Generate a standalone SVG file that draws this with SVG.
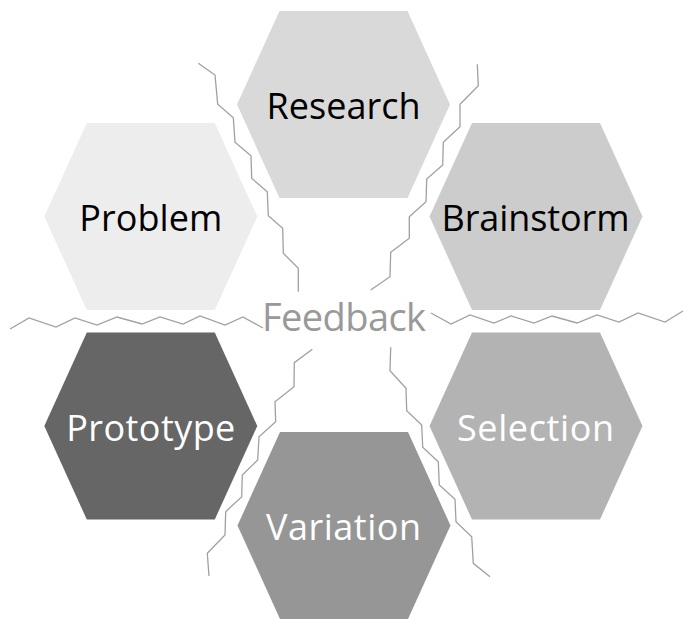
<svg xmlns="http://www.w3.org/2000/svg" xmlns:xlink="http://www.w3.org/1999/xlink" width="690" height="628" viewBox="0 0 690 628">
  <style>
    .lbl { font-family: "Open Sans", "Noto Sans", "Liberation Sans", sans-serif; font-size: 36px; text-anchor: middle; }
    .dark { fill: #000000; }
    .light { fill: #ffffff; }
    .fb { fill: #999999; font-size: 38px; }
    .zz { fill: none; stroke: #a0a0a0; stroke-width: 1.3; stroke-linejoin: miter; }
  </style>
  <defs>
    <polygon id="hex" points="-106.5,0 -64,-93.5 64,-93.5 106.5,0 64,93.5 -64,93.5"/>
  </defs>
  <rect width="690" height="628" fill="#ffffff"/>

  <g id="research">
    <use href="#hex" xlink:href="#hex" transform="translate(343.5,104.5)" fill="#d9d9d9"/>
    <text class="lbl dark" x="343.5" y="119" textLength="154" lengthAdjust="spacing">Research</text>
  </g>
  <g id="problem">
    <use href="#hex" xlink:href="#hex" transform="translate(150.8,216.5)" fill="#ededed"/>
    <text class="lbl dark" x="150.8" y="231" textLength="143" lengthAdjust="spacing">Problem</text>
  </g>
  <g id="brainstorm">
    <use href="#hex" xlink:href="#hex" transform="translate(536,216.5)" fill="#cccccc"/>
    <text class="lbl dark" x="535.5" y="231" textLength="188" lengthAdjust="spacing">Brainstorm</text>
  </g>
  <g id="prototype">
    <use href="#hex" xlink:href="#hex" transform="translate(150.8,426)" fill="#666666"/>
    <text class="lbl light" x="150.8" y="441" textLength="169" lengthAdjust="spacing">Prototype</text>
  </g>
  <g id="selection">
    <use href="#hex" xlink:href="#hex" transform="translate(536,426)" fill="#b3b3b3"/>
    <text class="lbl light" x="535.5" y="440.5" textLength="157" lengthAdjust="spacing">Selection</text>
  </g>
  <g id="variation">
    <use href="#hex" xlink:href="#hex" transform="translate(344,525.5)" fill="#969696"/>
    <text class="lbl light" x="343.5" y="540" textLength="155" lengthAdjust="spacing">Variation</text>
  </g>

  <g id="connectors">
    <polyline class="zz" points="198.3,63.3 215,75 217.7,104.3 233.3,117.7 235,142.3 251,155.7 251.7,178.3 267.3,191.7 268.3,215.7 282.7,228.3 283.3,253.3 298.3,268.3 298.3,291.7"/>
    <polyline class="zz" points="477.3,64.3 478.3,85.7 460,104.3 460,126.7 443.3,142.3 442.7,165 426.7,179 426,201.7 409.3,216.7 409.3,238.3 390.7,252.3 390,276.7 370.7,290"/>
    <polyline class="zz" points="312.3,349.3 294.3,362.7 294,386.7 275,401.7 275.7,421.7 259,436.7 257.7,460 242.3,475 241.7,496.7 225.7,511.7 225,535 207.3,553.3 209,576"/>
    <polyline class="zz" points="390.7,347.3 390,370.7 406,388.3 406.7,410.7 421.7,425 422.7,447.3 438.3,461.7 439.3,485 455,499.3 456,521.7 471.7,536.7 473.3,563.3 490,576.7"/>
    <polyline class="zz" points="10,329 29,318 56,327 75,318 97,325 117,317 142,324 160,317 183,324 200,316 225,325 243,317 263,328"/>
    <polyline class="zz" points="431,313 451,324 470,315 494,323 511,316 534,323 552,316 577,323 597,315 619,322 638,313 665,322 683,311"/>
  </g>

  <g id="feedback">
    <text class="lbl fb" x="344" y="331" textLength="164" lengthAdjust="spacing">Feedback</text>
  </g>
</svg>
